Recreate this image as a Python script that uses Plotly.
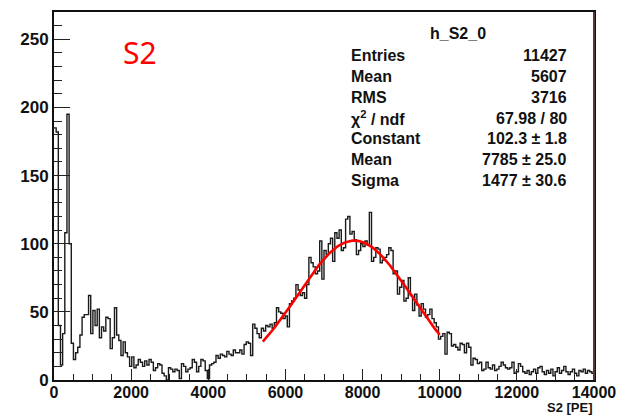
import plotly.graph_objects as go
import numpy as np

# ---------------- data ----------------
x_min, x_max = 0, 14000
n_bins = 250
counts = [
    185, 182, 40, 11, 34, 108, 195, 100, 27, 15, 20, 24, 33, 46, 48, 48, 62, 34, 51, 40,
    52, 31, 39, 36, 46, 45, 23, 31, 53, 33, 29, 18, 28, 20, 17, 10, 17, 9, 11, 15,
    13, 10, 14, 11, 15, 13, 7, 9, 12, 11, 5, 3, 0, 9, 8, 6, 8, 7, 1, 12,
    10, 6, 8, 9, 15, 13, 6, 10, 15, 14, 7, 1, 11, 12, 13, 18, 16, 19, 18, 17,
    21, 19, 18, 22, 20, 20, 22, 19, 26, 28, 27, 18, 41, 38, 34, 31, 38, 36, 40, 39,
    41, 38, 42, 53, 50, 49, 45, 47, 39, 56, 58, 60, 70, 66, 62, 64, 60, 70, 90, 86,
    83, 78, 80, 102, 74, 95, 92, 100, 104, 87, 108, 104, 110, 95, 97, 118, 120, 107, 109, 103,
    92, 95, 100, 98, 102, 99, 123, 87, 90, 97, 96, 86, 88, 90, 92, 97, 95, 78, 80, 63,
    68, 73, 58, 60, 75, 62, 51, 63, 55, 47, 56, 52, 46, 48, 52, 45, 42, 39, 30, 32,
    34, 19, 35, 34, 25, 26, 24, 22, 27, 26, 20, 27, 24, 11, 16, 15, 12, 13, 7, 8,
    13, 9, 8, 11, 7, 8, 10, 13, 11, 9, 8, 9, 13, 5, 6, 12, 10, 6, 5, 7,
    4, 6, 8, 5, 9, 10, 6, 4, 7, 5, 8, 3, 6, 9, 5, 7, 10, 6, 4, 6,
    8, 5, 3, 7, 6, 8, 5, 7, 6, 5,
]

# Gaussian fit parameters (from the stat box)
fit_const, fit_mean, fit_sigma = 102.3, 7785.0, 1477.0
fit_lo, fit_hi = 5414, 10000

stat_title = "h_S2_0"
stat_labels = ["Entries", "Mean", "RMS", "χ<sup>2</sup> / ndf", "Constant", "Mean", "Sigma"]
stat_values = ["11427", "5607", "3716", "67.98 / 80", "102.3 ± 1.8", "7785 ± 25.0", "1477 ± 30.6"]

x_ticks = list(range(0, 14001, 2000))
y_ticks = list(range(0, 251, 50))

# ---------------- figure ----------------
edges = np.linspace(x_min, x_max, n_bins + 1)
hx = list(edges[:-1]) + [edges[-1]]
hy = list(counts) + [counts[-1]]

fx = np.linspace(fit_lo, fit_hi, 300)
fy = fit_const * np.exp(-0.5 * ((fx - fit_mean) / fit_sigma) ** 2)

fig = go.Figure()
fig.add_trace(go.Scatter(x=hx, y=hy, mode="lines", line=dict(shape="hv", color="#1a1a1a", width=1.4),
                         hoverinfo="skip", showlegend=False))
fig.add_trace(go.Scatter(x=fx, y=fy, mode="lines", line=dict(color="#ff0000", width=2.6),
                         hoverinfo="skip", showlegend=False))

W, H = 626, 415
L, R, T, B = 54, 601, 10, 380


def px(x):
    return (x - L) / (R - L)


def py(y):
    return (B - y) / (B - T)


ytick_font = dict(family="Liberation Sans, Arial, sans-serif", size=17, color="#111111")
xtick_font = dict(family="Liberation Sans, Arial, sans-serif", size=16, color="#111111")

fig.update_layout(
    width=W, height=H,
    margin=dict(l=L, r=W - R, t=T, b=H - B),
    paper_bgcolor="white", plot_bgcolor="white",
    xaxis=dict(range=[x_min, x_max], tickvals=x_ticks, ticktext=[f"<b>{v}</b>" for v in x_ticks],
               ticks="inside", ticklen=11, tickwidth=1.3, tickcolor="#222",
               minor=dict(dtick=500, ticks="inside", ticklen=6, tickwidth=1.2, tickcolor="#222"),
               showline=True, linecolor="#111", linewidth=2, mirror=True,
               ticklabelstandoff=-3,
               showgrid=False, zeroline=False, tickfont=xtick_font),
    yaxis=dict(range=[0, 270], tickvals=y_ticks, ticktext=[f"<b>{v}</b>" for v in y_ticks],
               ticks="inside", ticklen=16, tickwidth=1.3, tickcolor="#222",
               minor=dict(dtick=10, ticks="inside", ticklen=8, tickwidth=1.2, tickcolor="#222"),
               showline=True, linecolor="#111", linewidth=2, mirror=True,
               showgrid=False, zeroline=False, tickfont=ytick_font),
)

# right frame edge (brownish in reference)
fig.add_shape(type="line", xref="paper", yref="paper", x0=1, x1=1, y0=0, y1=1,
              line=dict(color="#5a3535", width=2))

stat_font = dict(family="Liberation Sans, Arial, sans-serif", size=16, color="#111111")
fig.add_annotation(x=px(463), y=py(32), xref="paper", yref="paper", text=f"<b>{stat_title}</b>",
                   showarrow=False, xanchor="center", yanchor="middle", font=stat_font)
row_y = [53.5, 75, 96, 117, 137.5, 158, 179]
for lab, val, yy in zip(stat_labels, stat_values, row_y):
    fig.add_annotation(x=px(353), y=py(yy), xref="paper", yref="paper", text=f"<b>{lab}</b>",
                       showarrow=False, xanchor="left", yanchor="middle", font=stat_font)
    fig.add_annotation(x=px(576), y=py(yy), xref="paper", yref="paper", text=f"<b>{val}</b>",
                       showarrow=False, xanchor="right", yanchor="middle", font=stat_font)

fig.add_annotation(x=px(141), y=py(51), xref="paper", yref="paper", text="S2",
                   showarrow=False, xanchor="center", yanchor="middle",
                   font=dict(family="Noto Sans, Open Sans, sans-serif", size=30, color="#ff0000"))

fig.add_annotation(x=px(602), y=py(408), xref="paper", yref="paper", text="<b>S2 [PE]</b>",
                   showarrow=False, xanchor="right", yanchor="middle",
                   font=dict(family="Liberation Sans, Arial, sans-serif", size=13, color="#111111"))

fig.write_html("out.html")
